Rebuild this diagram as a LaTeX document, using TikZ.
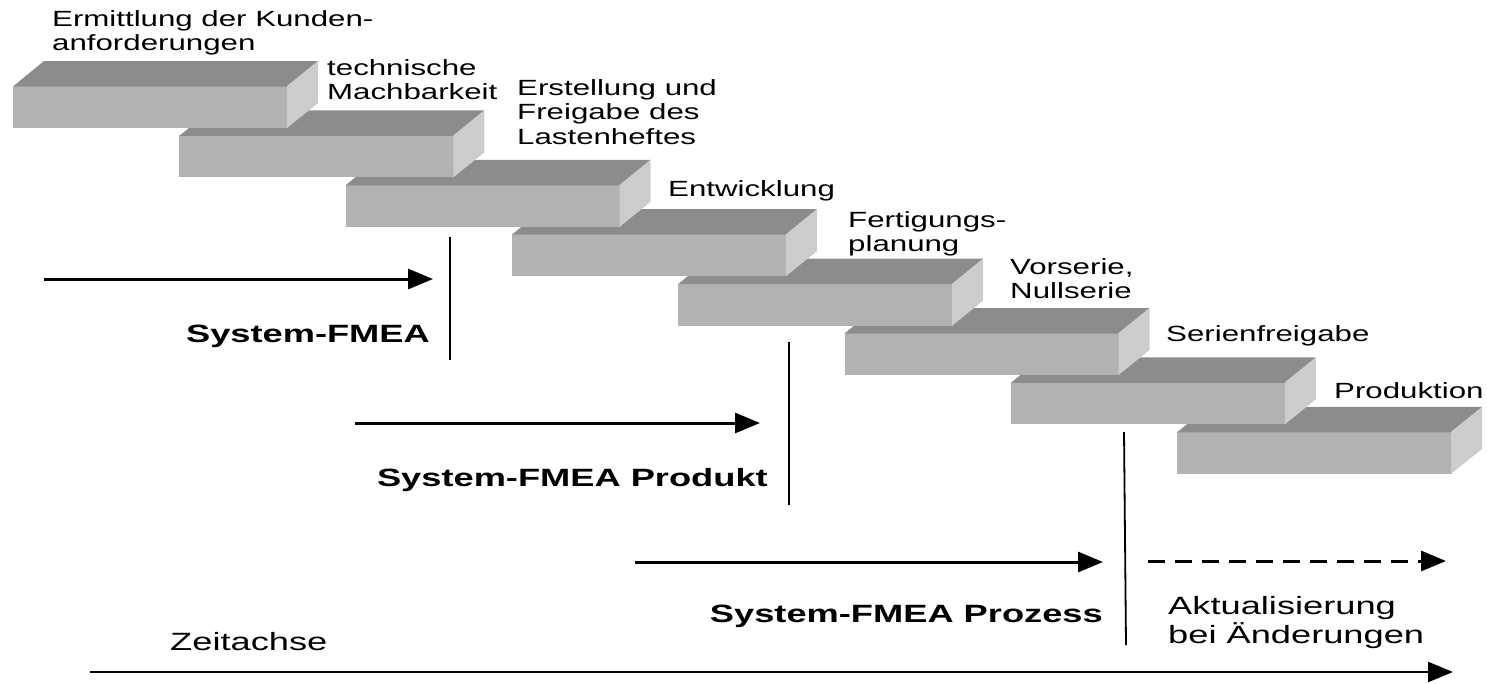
\documentclass[tikz,border=0pt]{standalone}
\usepackage{fontspec}
\setmainfont{Liberation Sans}
\newfontfamily\widesans[FakeStretch=1.45]{Liberation Sans}
\newfontfamily\stepsans[FakeStretch=1.42]{Liberation Sans}
\usetikzlibrary{arrows.meta}
\definecolor{blocktop}{gray}{0.55}
\definecolor{blockfront}{gray}{0.70}
\definecolor{blockside}{gray}{0.80}
\tikzset{
  steplabel/.style={anchor=north west, inner sep=0pt, align=left,
    font=\stepsans\fontsize{22}{24.5}\selectfont},
  phaselabel/.style={anchor=base east, inner sep=0pt,
    font=\widesans\bfseries\fontsize{25}{30}\selectfont},
  notelabel/.style={inner sep=0pt, align=left,
    font=\widesans\fontsize{25}{29}\selectfont},
  flow/.style={line width=3pt, -{Triangle[length=25pt,width=20pt]}},
  divider/.style={line width=1.8pt},
}
\begin{document}
\begin{tikzpicture}[x=1pt,y=-1pt]
\useasboundingbox (0,0) rectangle (1487,683);

% staircase of process steps, drawn back to front
\foreach \i in {7,6,...,0}{
  \pgfmathsetmacro\L{13+166.3*\i}
  \pgfmathsetmacro\T{86+49.4*\i}
  \fill[blockfront] (\L,\T) rectangle ++(275,42);
  \fill[blocktop] (\L,\T+0.5) -- ++(31,-25.5) -- ++(274,0) -- ++(-31,25.5) -- cycle;
  \fill[blockside] (\L+274,\T) -- ++(31,-25) -- ++(0,42) -- ++(-31,25) -- cycle;
}

% step labels
\node[steplabel] (kunden)   at (52,10)   {Ermittlung der Kunden-\\anforderungen};
\node[steplabel] (machbar)  at (327,59)  {technische\\Machbarkeit};
\node[steplabel] (lasten)   at (517,79)  {Erstellung und\\Freigabe des\\Lastenheftes};
\node[steplabel] (entw)     at (668,180) {Entwicklung};
\node[steplabel] (fert)     at (848,211) {Fertigungs-\\planung};
\node[steplabel] (vorserie) at (1010,258) {Vorserie,\\Nullserie};
\node[steplabel] (serien)   at (1166,325) {Serienfreigabe};
\node[steplabel] (prod)     at (1334,382) {Produktion};

% FMEA phases along the time axis
\coordinate (p1s) at (44,279);   \coordinate (p1e) at (433,279);
\coordinate (d1t) at (450,237);  \coordinate (d1b) at (450,360);
\coordinate (p2s) at (355,423);  \coordinate (p2e) at (760,423);
\coordinate (d2t) at (789,342);  \coordinate (d2b) at (789,505);
\coordinate (p3s) at (635,562);  \coordinate (p3e) at (1103,562);
\coordinate (d3t) at (1124,432); \coordinate (d3b) at (1126,645);
\coordinate (p4s) at (1148,561); \coordinate (p4e) at (1446,561);
\coordinate (ts)  at (90,672);   \coordinate (te)  at (1453,672);

\draw[flow] (p1s) -- (p1e);
\draw[divider] (d1t) -- (d1b);
\draw[flow] (p2s) -- (p2e);
\draw[divider] (d2t) -- (d2b);
\draw[flow] (p3s) -- (p3e);
\draw[divider] (d3t) -- (d3b);
\draw[flow, dash pattern=on 17pt off 10pt] (p4s) -- (p4e);
\draw[flow, line width=2.5pt] (ts) -- (te);

\node[phaselabel] (sfmea) at (430,342) {System-FMEA};
\node[phaselabel] (sprod) at (768,486) {System-FMEA Produkt};
\node[phaselabel] (sproz) at (1103,622) {System-FMEA Prozess};

\node[notelabel, anchor=north west] (update) at (1168,596) {Aktualisierung\\bei Änderungen};
\node[notelabel, anchor=base west] (zeit) at (170,650) {Zeitachse};
\end{tikzpicture}
\end{document}
